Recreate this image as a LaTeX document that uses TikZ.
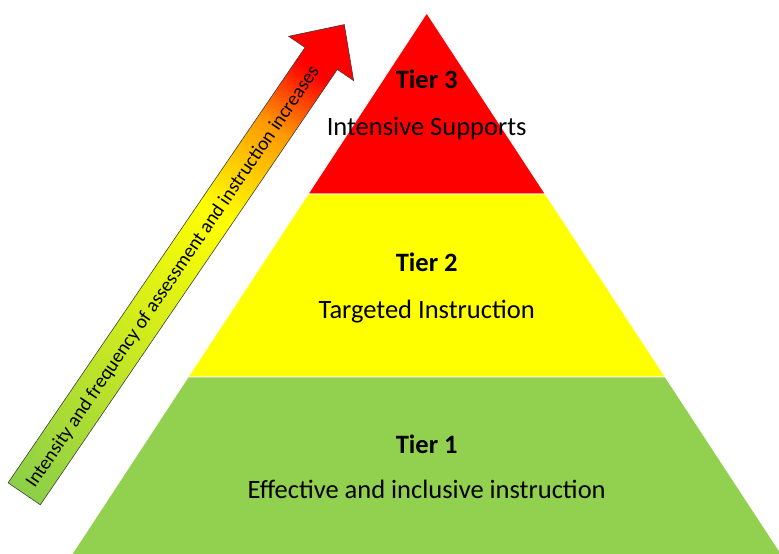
\documentclass[tikz,border=0pt]{standalone}
\usepackage{fontspec}
\setmainfont{Carlito}
\definecolor{tierred}{HTML}{FF0000}
\definecolor{tieryellow}{HTML}{FFFF00}
\definecolor{tiergreen}{HTML}{92D050}
\definecolor{arrgreen}{HTML}{8CCF48}
\definecolor{arrorange}{HTML}{FF9900}
\begin{document}
\begin{tikzpicture}[x=1pt,y=-1pt,
  layer/.style={draw=white,line width=0.8pt},
  tiertitle/.style={font=\fontsize{26.5}{30}\selectfont\bfseries,anchor=base,inner sep=0pt},
  tiertext/.style={font=\fontsize{26.5}{30}\selectfont,anchor=base,inner sep=0pt},
  arrlabel/.style={font=\fontsize{19.5}{22}\selectfont,anchor=base,inner sep=0pt,transform shape},
  arrowline/.style={draw=black!75,line width=0.6pt,line join=miter}]
\useasboundingbox (0,0) rectangle (779,554);
\begin{scope}
  \clip (0,0) rectangle (779,554);
  \path[fill=tierred,layer] (426.7,13) -- (545.3,194) -- (308.1,194) -- cycle;
  \path[fill=tieryellow,layer] (308.1,194) -- (545.3,194) -- (665.3,377) -- (188.1,377) -- cycle;
  \path[fill=tiergreen,layer] (188.1,377) -- (665.3,377) -- (785.3,560) -- (68.1,560) -- cycle;
\end{scope}
\node[tiertitle] (t3) at (426.7,88) {Tier 3};
\node[tiertext] (t3d) at (426.7,135) {Intensive Supports};
\node[tiertitle] (t2) at (426.7,271) {Tier 2};
\node[tiertext] (t2d) at (426.7,318) {Targeted Instruction};
\node[tiertitle] (t1) at (426.7,453) {Tier 1};
\node[tiertext] (t1d) at (426.7,498) {Effective and inclusive instruction};
\begin{scope}[shift={(24.2,493.8)},rotate=55.7]
  \begin{scope}
    \clip (0,-19.5) -- (527,-19.5) -- (527,-39.3) -- (568,0) -- (527,39.3) -- (527,19.5) -- (0,19.5) -- cycle;
    \foreach \s in {0,2,...,568} {
      \pgfmathsetmacro\t{\s/568}
      \ifdim\t pt<0.6pt
        \pgfmathsetmacro\p{100*\t/0.6}\colorlet{sc}{tieryellow!\p!arrgreen}
      \else\ifdim\t pt<0.78pt
        \pgfmathsetmacro\p{100*(\t-0.6)/0.18}\colorlet{sc}{arrorange!\p!tieryellow}
      \else\ifdim\t pt<0.9pt
        \pgfmathsetmacro\p{100*(\t-0.78)/0.12}\colorlet{sc}{tierred!\p!arrorange}
      \else
        \colorlet{sc}{tierred}
      \fi\fi\fi
      \fill[sc] (\s-0.5,-40) rectangle (\s+2.5,40);
    }
  \end{scope}
  \path[arrowline] (0,-19.5) -- (527,-19.5) -- (527,-39.3) -- (568,0) -- (527,39.3) -- (527,19.5) -- (0,19.5) -- cycle;
  \node[arrlabel] (lab) at (263,6) {Intensity and frequency of assessment and instruction increases};
\end{scope}
\end{tikzpicture}
\end{document}
